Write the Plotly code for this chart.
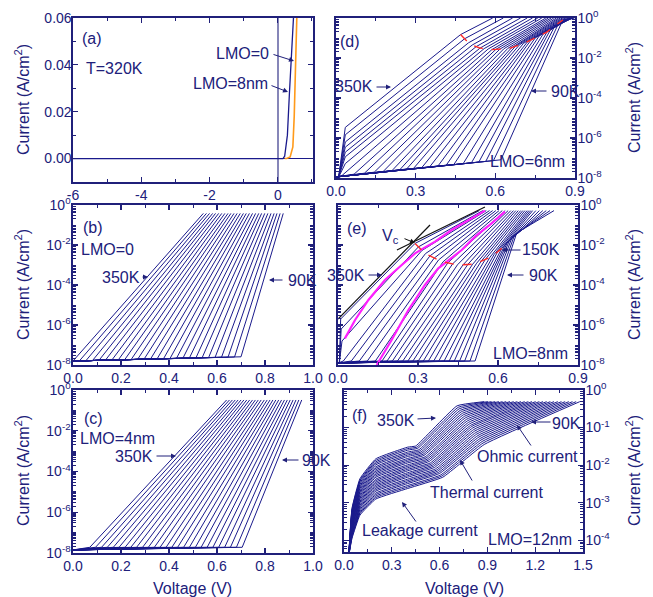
import plotly.graph_objects as go

W, H = 653, 597
FONT = "Liberation Sans, Arial, Helvetica, sans-serif"
TXT = "#20207a"
FRAME = "#20207a"
CURVE = "#1a1a8c"
MAGENTA = "#ff20ff"
RED = "#ff2a2a"
ORANGE = "#ff9a1a"

TEMPS = [350, 340, 330, 320, 310, 300, 290, 280, 270, 260, 250, 240, 230, 220,
         210, 200, 190, 180, 170, 160, 150, 140, 130, 120, 110, 100, 90]

# ---------------- (a) linear I-V at 320 K ----------------
a_v_lmo8 = [-6.0, 0.15, 0.20, 0.28, 0.34, 0.40, 0.46, 0.48]
a_i_lmo8 = [0.0, 0.0, 0.001, 0.010, 0.028, 0.043, 0.060, 0.066]
a_v_lmo0 = [0.20, 0.26, 0.36, 0.44, 0.48, 0.52, 0.556, 0.57]
a_i_lmo0 = [0.0, 0.0, 0.0007, 0.005, 0.018, 0.039, 0.060, 0.068]

# ---------------- (b) LMO=0 (log10 current) ----------------
b_v_on = [0.000, 0.027, 0.054, 0.081, 0.108, 0.135, 0.162, 0.189, 0.215, 0.242,
          0.269, 0.296, 0.323, 0.350, 0.377, 0.404, 0.431, 0.458, 0.485, 0.512,
          0.538, 0.565, 0.592, 0.619, 0.646, 0.673, 0.700]
b_v_top = [0.543, 0.556, 0.569, 0.582, 0.594, 0.607, 0.620, 0.633, 0.646, 0.658,
           0.671, 0.684, 0.697, 0.710, 0.722, 0.735, 0.748, 0.761, 0.774, 0.786,
           0.799, 0.812, 0.825, 0.838, 0.850, 0.863, 0.876]
b_floor_on = [-7.80, -7.79, -7.78, -7.78, -7.77, -7.76, -7.75, -7.74, -7.74, -7.73,
              -7.72, -7.71, -7.70, -7.70, -7.69, -7.68, -7.67, -7.66, -7.65, -7.65,
              -7.64, -7.63, -7.62, -7.61, -7.61, -7.60, -7.59]
B_FLOOR_START = -7.80
B_TOP = -0.42

# ---------------- (c) LMO=4nm ----------------
c_v_on = [0.070, 0.094, 0.119, 0.143, 0.168, 0.192, 0.217, 0.241, 0.265, 0.290,
          0.314, 0.339, 0.363, 0.388, 0.412, 0.436, 0.461, 0.485, 0.510, 0.534,
          0.559, 0.583, 0.607, 0.632, 0.656, 0.681, 0.705]
c_v_top = [0.640, 0.652, 0.664, 0.676, 0.688, 0.700, 0.712, 0.724, 0.736, 0.748,
           0.760, 0.772, 0.784, 0.797, 0.809, 0.821, 0.833, 0.845, 0.857, 0.869,
           0.881, 0.893, 0.905, 0.917, 0.929, 0.941, 0.953]
C_FLOOR_START = -7.85
C_FLOOR_ON = -7.72
C_TOP = -0.49

# ---------------- (d) LMO=6nm ----------------
d_base_v = [0.035, 0.035, 0.035, 0.035, 0.035, 0.035, 0.035, 0.023, 0.068, 0.107,
            0.144, 0.178, 0.211, 0.240, 0.266, 0.292, 0.323, 0.353, 0.384, 0.415,
            0.444, 0.479, 0.510, 0.538, 0.564, 0.593, 0.621]
d_base_log = [-5.47, -5.84, -6.20, -6.46, -6.71, -6.94, -7.28, -7.87, -7.81, -7.76,
              -7.71, -7.67, -7.63, -7.59, -7.55, -7.52, -7.48, -7.44, -7.40, -7.36,
              -7.32, -7.28, -7.24, -7.20, -7.17, -7.13, -7.09]
d_knee_v = [0.469, 0.484, 0.499, 0.513, 0.528, 0.543, 0.558, 0.573, 0.587, 0.602,
            0.617, 0.632, 0.647, 0.661, 0.676, 0.691, 0.706, 0.721, 0.735, 0.750,
            0.765, 0.780, 0.795, 0.809, 0.824, 0.839, 0.854]
d_knee_log = [-0.83, -1.04, -1.24, -1.35, -1.43, -1.50, -1.53, -1.55, -1.58, -1.57,
              -1.56, -1.54, -1.52, -1.49, -1.41, -1.34, -1.27, -1.19, -1.09, -1.00,
              -0.90, -0.80, -0.69, -0.55, -0.40, -0.25, -0.10]
d_top_v = [0.590, 0.630, 0.665, 0.695, 0.720, 0.740, 0.760, 0.775, 0.790, 0.800,
           0.810, 0.820, 0.830, 0.838, 0.845, 0.852, 0.858, 0.864, 0.869, 0.874,
           0.878, 0.882, 0.886, 0.889, 0.892, 0.895, 0.898]
D_FLOOR = -7.95
D_TOP = 0.0
d_red_v = [0.469, 0.503, 0.541, 0.591, 0.654, 0.716, 0.792, 0.854]
d_red_log = [-0.83, -1.30, -1.50, -1.58, -1.52, -1.22, -0.72, -0.10]

# ---------------- (e) LMO=8nm ----------------
e_base_v = [0.010, 0.012, 0.015, 0.020, 0.050, 0.080, 0.110, 0.140, 0.165, 0.184,
            0.204, 0.223, 0.243, 0.262, 0.281, 0.301, 0.320, 0.339, 0.359, 0.378,
            0.398, 0.417, 0.436, 0.456, 0.475, 0.495, 0.514]
e_base_log = [-5.70, -6.20, -6.80, -7.80, -7.80, -7.80, -7.80, -7.80, -7.80, -7.80,
              -7.80, -7.80, -7.80, -7.80, -7.80, -7.80, -7.80, -7.80, -7.80, -7.80,
              -7.80, -7.80, -7.80, -7.80, -7.80, -7.80, -7.80]
e_knee_v = [0.289, 0.302, 0.315, 0.328, 0.345, 0.361, 0.377, 0.394, 0.412, 0.430,
            0.448, 0.469, 0.487, 0.505, 0.520, 0.537, 0.553, 0.570, 0.585, 0.599,
            0.614, 0.626, 0.634, 0.642, 0.652, 0.662, 0.670]
e_knee_log = [-1.92, -2.09, -2.27, -2.43, -2.54, -2.65, -2.75, -2.84, -2.89, -2.94,
              -2.99, -2.99, -2.97, -2.96, -2.91, -2.81, -2.71, -2.61, -2.48, -2.33,
              -2.17, -2.00, -1.90, -1.80, -1.65, -1.50, -1.40]
e_top_v = [0.530, 0.543, 0.556, 0.568, 0.580, 0.592, 0.604, 0.616, 0.627, 0.638,
           0.648, 0.658, 0.667, 0.676, 0.685, 0.693, 0.701, 0.709, 0.716, 0.723,
           0.730, 0.742, 0.755, 0.768, 0.781, 0.795, 0.810]
E_FLOOR = -7.90
E_TOP = -0.28
e_mag1_v = [0.026, 0.064, 0.114, 0.176, 0.239, 0.289, 0.320, 0.364, 0.426, 0.489, 0.551]
e_mag1_log = [-6.67, -5.75, -4.75, -3.75, -3.00, -2.42, -2.17, -1.83, -1.25, -0.75, -0.28]
e_mag2_v = [0.145, 0.201, 0.264, 0.326, 0.376, 0.408, 0.464, 0.514, 0.576, 0.626]
e_mag2_log = [-8.00, -6.75, -5.25, -4.00, -3.17, -2.83, -2.25, -1.58, -0.92, -0.33]
e_tan1_v = [0.0, 0.345]
e_tan1_log = [-5.70, -1.00]
e_tan2_v = [0.221, 0.551]
e_tan2_log = [-2.25, -0.10]
e_red_v = [0.289, 0.326, 0.389, 0.451, 0.514, 0.576, 0.614]
e_red_log = [-1.92, -2.42, -2.83, -3.00, -2.95, -2.58, -2.17]

# ---------------- (f) LMO=12nm ----------------
F_START_V = 0.03
F_BOTTOM = -4.40
F_LEAK_V = [0.05, 0.10, 0.20, 0.40]
f_log_005 = [-3.15, -3.18, -3.21, -3.24, -3.27, -3.30, -3.33, -3.37, -3.40, -3.43,
             -3.46, -3.49, -3.52, -3.55, -3.58, -3.61, -3.64, -3.67, -3.70, -3.73,
             -3.77, -3.80, -3.83, -3.86, -3.89, -3.92, -3.95]
f_log_010 = [-2.36, -2.40, -2.43, -2.47, -2.51, -2.55, -2.58, -2.62, -2.66, -2.70,
             -2.73, -2.77, -2.81, -2.85, -2.88, -2.92, -2.96, -2.99, -3.03, -3.07,
             -3.11, -3.14, -3.18, -3.22, -3.26, -3.29, -3.33]
f_log_020 = [-1.83, -1.87, -1.91, -1.95, -1.99, -2.04, -2.08, -2.12, -2.16, -2.20,
             -2.24, -2.28, -2.32, -2.37, -2.41, -2.45, -2.49, -2.53, -2.57, -2.61,
             -2.65, -2.69, -2.74, -2.78, -2.82, -2.86, -2.90]
f_log_040 = [-1.52, -1.56, -1.60, -1.65, -1.69, -1.73, -1.77, -1.82, -1.86, -1.90,
             -1.94, -1.99, -2.03, -2.07, -2.11, -2.15, -2.20, -2.24, -2.28, -2.32,
             -2.37, -2.41, -2.45, -2.49, -2.54, -2.58, -2.62]
f_onset_v = [0.450, 0.457, 0.463, 0.470, 0.476, 0.483, 0.489, 0.496, 0.502, 0.509,
             0.515, 0.522, 0.528, 0.535, 0.542, 0.548, 0.555, 0.561, 0.568, 0.574,
             0.581, 0.587, 0.594, 0.600, 0.607, 0.613, 0.620]
f_onset_log = [-1.49, -1.52, -1.55, -1.59, -1.62, -1.65, -1.68, -1.71, -1.74, -1.78,
               -1.81, -1.84, -1.87, -1.90, -1.94, -1.97, -2.00, -2.03, -2.06, -2.10,
               -2.13, -2.16, -2.19, -2.22, -2.26, -2.29, -2.32]
f_ohmic_v = [0.710, 0.717, 0.723, 0.730, 0.736, 0.743, 0.749, 0.756, 0.762, 0.769,
             0.775, 0.782, 0.788, 0.795, 0.802, 0.808, 0.815, 0.821, 0.828, 0.834,
             0.841, 0.847, 0.854, 0.860, 0.867, 0.873, 0.880]
f_ohmic_log = [-0.42, -0.46, -0.50, -0.54, -0.58, -0.62, -0.66, -0.70, -0.74, -0.78,
               -0.82, -0.86, -0.90, -0.94, -0.97, -1.01, -1.05, -1.09, -1.13, -1.17,
               -1.21, -1.25, -1.29, -1.33, -1.37, -1.41, -1.45]
f_end_v = [0.880, 0.903, 0.926, 0.949, 0.972, 0.995, 1.018, 1.042, 1.065, 1.088,
           1.111, 1.134, 1.157, 1.180, 1.203, 1.226, 1.249, 1.272, 1.295, 1.318,
           1.342, 1.365, 1.388, 1.411, 1.434, 1.457, 1.480]
F_END_LOG = -0.31

# ======================================================================
fig = go.Figure()


def add(n, xs, ys, color=CURVE, width=1.0, dash=None, log=True, smooth=0.0):
    yv = [10.0 ** v for v in ys] if log else ys
    line = dict(color=color, width=width, dash=dash)
    if smooth:
        line.update(shape="spline", smoothing=smooth)
    fig.add_trace(go.Scatter(
        x=xs, y=yv, mode="lines", line=line,
        xaxis="x" if n == 1 else f"x{n}", yaxis="y" if n == 1 else f"y{n}",
        hoverinfo="skip", showlegend=False))


# (a)
add(1, a_v_lmo8, a_i_lmo8, CURVE, 1.3, log=False)
add(1, a_v_lmo0, a_i_lmo0, ORANGE, 1.6, log=False)

# (b)
for i in range(len(TEMPS)):
    add(2, [0.0, b_v_on[i], b_v_top[i]], [B_FLOOR_START, b_floor_on[i], B_TOP])

# (c)
for i in range(len(TEMPS)):
    add(3, [0.0, c_v_on[i], c_v_top[i]], [C_FLOOR_START, C_FLOOR_ON, C_TOP])

# (d)
for i in range(len(TEMPS)):
    xs, ls = [0.0], [D_FLOOR]
    if d_base_v[i] <= 0.035 and d_base_log[i] > -7.5:
        xs.append(0.01)
        ls.append(D_FLOOR)
    xs += [d_base_v[i], d_knee_v[i], d_top_v[i]]
    ls += [d_base_log[i], d_knee_log[i], D_TOP]
    add(4, xs, ls)
add(4, d_red_v, d_red_log, RED, 1.4, "dash")

# (e)
for i in range(len(TEMPS)):
    xs, ls = [0.0], [E_FLOOR]
    if e_base_log[i] > -7.5:
        xs.append(0.005)
        ls.append(E_FLOOR)
    xs += [e_base_v[i], e_knee_v[i], e_top_v[i]]
    ls += [e_base_log[i], e_knee_log[i], E_TOP]
    add(5, xs, ls)
add(5, e_mag1_v, e_mag1_log, MAGENTA, 2.2)
add(5, e_mag2_v, e_mag2_log, MAGENTA, 2.2)
add(5, e_tan1_v, e_tan1_log, "#111111", 1.2)
add(5, e_tan2_v, e_tan2_log, "#111111", 1.2)
add(5, e_red_v, e_red_log, RED, 1.4, "dash")

# (f)
for i in range(len(TEMPS)):
    xs = [F_START_V] + F_LEAK_V + [f_onset_v[i], f_ohmic_v[i], f_end_v[i]]
    ls = [F_BOTTOM, f_log_005[i], f_log_010[i], f_log_020[i], f_log_040[i],
          f_onset_log[i], f_ohmic_log[i], F_END_LOG]
    add(6, xs, ls, smooth=0.35)

# ======================================================================
def dom_x(x0, x1):
    return [x0 / W, x1 / W]


def dom_y(top, bottom):
    return [1 - bottom / H, 1 - top / H]


def base_axis():
    return dict(showline=True, linecolor=FRAME, linewidth=1.6, mirror="allticks",
                ticks="inside", ticklen=5, tickwidth=1.2, tickcolor=FRAME,
                showgrid=False, zeroline=False, fixedrange=True, automargin=False,
                tickfont=dict(family=FONT, size=14, color=TXT))


LOG_MINOR8 = [m * 10.0 ** k for k in range(-9, 1) for m in range(2, 10)] + \
             [10.0 ** k for k in (-7, -5, -3, -1)]
LOG_MINOR4 = [m * 10.0 ** k for k in range(-5, 1) for m in range(2, 10)]


def log8_axis(side="left"):
    d = base_axis()
    d.update(type="log", range=[-8, 0], side=side,
             ticklabelstandoff=-2,
             tickvals=[1e-8, 1e-6, 1e-4, 1e-2, 1],
             ticktext=["10<sup>-8</sup>", "10<sup>-6</sup>", "10<sup>-4</sup>",
                       "10<sup>-2</sup>", "10<sup>0</sup>"],
             minor=dict(ticks="inside", ticklen=3, tickcolor=FRAME, tickwidth=1,
                        tickvals=LOG_MINOR8, showgrid=False))
    return d


def lin_x(rng, dtick, minor, fmt=".1f"):
    d = base_axis()
    d.update(range=rng, dtick=dtick, tick0=0, tickformat=fmt,
             minor=dict(ticks="inside", ticklen=3, tickcolor=FRAME, tickwidth=1,
                        dtick=minor, tick0=0, showgrid=False))
    return d


COL_L = (73, 313)
ROW1 = (18, 182)
ROW2 = (205, 365)
ROW3 = (390, 553)

layout = dict(width=W, height=H, margin=dict(l=0, r=0, t=0, b=0, autoexpand=False),
              paper_bgcolor="white", plot_bgcolor="white", showlegend=False,
              font=dict(family=FONT, color=TXT))

# (a)
xa = lin_x([-6, 1.03], 2, 1, fmt="d")
xa.update(tickvals=[-6, -4, -2, 0], ticktext=["-6", "-4", "-2", "0"],
          zeroline=True, zerolinecolor="#8686b8", zerolinewidth=1.5,
          domain=dom_x(*COL_L), anchor="y")
ya = base_axis()
ya.update(range=[-0.01, 0.06], tickvals=[0, 0.02, 0.04, 0.06],
          ticktext=["0.00", "0.02", "0.04", "0.06"], ticklabelstandoff=-3,
          minor=dict(ticks="inside", ticklen=3, tickcolor=FRAME, tickwidth=1,
                     dtick=0.01, tick0=0, showgrid=False),
          zeroline=True, zerolinecolor=CURVE, zerolinewidth=1.2,
          domain=dom_y(*ROW1), anchor="x")
layout["xaxis"] = xa
layout["yaxis"] = ya

# (b)
xb = lin_x([0, 1], 0.2, 0.1)
xb.update(domain=dom_x(*COL_L), anchor="y2")
yb = log8_axis()
yb.update(domain=dom_y(*ROW2), anchor="x2")
layout["xaxis2"] = xb
layout["yaxis2"] = yb

# (c)
xc = lin_x([0, 1], 0.2, 0.1)
xc.update(domain=dom_x(*COL_L), anchor="y3")
yc = log8_axis()
yc.update(domain=dom_y(*ROW3), anchor="x3")
layout["xaxis3"] = xc
layout["yaxis3"] = yc

# (d)
xd = lin_x([0, 0.9], 0.3, 0.15)
xd.update(domain=dom_x(336, 575), anchor="y4")
yd = log8_axis("right")
yd.update(domain=dom_y(18, 178), anchor="x4")
layout["xaxis4"] = xd
layout["yaxis4"] = yd

# (e)
xe = lin_x([0, 0.9], 0.3, 0.15)
xe.update(domain=dom_x(338, 578), anchor="y5")
ye = log8_axis("right")
ye.update(domain=dom_y(205, 365), anchor="x5")
layout["xaxis5"] = xe
layout["yaxis5"] = ye

# (f)
xf = lin_x([0, 1.5], 0.3, 0.15)
xf.update(domain=dom_x(344, 583), anchor="y6")
yf = base_axis()
yf.update(type="log", range=[-4.31, 0], side="right", ticklabelstandoff=-2,
          tickvals=[1e-4, 1e-3, 1e-2, 1e-1, 1],
          ticktext=["10<sup>-4</sup>", "10<sup>-3</sup>", "10<sup>-2</sup>",
                    "10<sup>-1</sup>", "10<sup>0</sup>"],
          minor=dict(ticks="inside", ticklen=3, tickcolor=FRAME, tickwidth=1,
                     tickvals=LOG_MINOR4, showgrid=False),
          domain=dom_y(390, 552), anchor="x6")
layout["xaxis6"] = xf
layout["yaxis6"] = yf

# ---------------- annotations ----------------
ann = []


def P(x, y):
    return x / W, 1 - y / H


def label(x, y, text, size=16, angle=0, color=TXT):
    px, py = P(x, y)
    ann.append(dict(x=px, y=py, xref="paper", yref="paper", text=text,
                    showarrow=False, textangle=angle,
                    font=dict(family=FONT, size=size, color=color),
                    xanchor="center", yanchor="middle"))


def arrow(tx, ty, hx, hy, color=TXT):
    px, py = P(hx, hy)
    ann.append(dict(x=px, y=py, xref="paper", yref="paper", text="",
                    showarrow=True, ax=tx - hx, ay=ty - hy,
                    arrowhead=2, arrowsize=1, arrowwidth=1, standoff=0,
                    arrowcolor=color))


CUR = "Current (A/cm<sup>2</sup>)"
label(22, 100, CUR, 16, -90)
label(22, 285, CUR, 16, -90)
label(22, 471, CUR, 16, -90)
label(633, 98, CUR, 16, -90)
label(633, 285, CUR, 16, -90)
label(633, 471, CUR, 16, -90)
label(193, 588, "Voltage (V)", 16)
label(464, 588, "Voltage (V)", 16)

# (a)
label(92, 38, "(a)")
label(114, 68, "T=320K")
label(242, 53, "LMO=0")
arrow(272, 54, 294, 61)
label(230, 83, "LMO=8nm")
arrow(270, 85, 288, 92)
# (b)
label(93, 227, "(b)")
label(107, 250, "LMO=0")
label(121, 277, "350K")
arrow(141, 277, 148, 277)
label(302, 280, "90K")
arrow(284, 280, 269, 280)
# (c)
label(93, 418, "(c)")
label(118, 438, "LMO=4nm")
label(134, 456, "350K")
arrow(155, 456, 176, 456)
label(316, 460, "90K")
arrow(300, 460, 282, 460)
# (d)
label(350, 41, "(d)")
label(354, 87, "350K")
arrow(375, 87, 391, 87)
label(565, 91, "90K")
arrow(548, 91, 531, 91)
label(527, 161, "LMO=6nm")
# (e)
label(357, 229, "(e)")
label(390, 236, "V<sub>c</sub>")
arrow(403, 238, 415, 243, "#111111")
label(346, 275, "350K")
arrow(367, 275, 382, 275)
label(541, 250, "150K")
arrow(522, 250, 502, 250)
label(543, 275, "90K")
arrow(525, 275, 507, 275)
label(530, 353, "LMO=8nm")
# (f)
label(359, 415, "(f)")
label(396, 420, "350K")
arrow(416, 419, 436, 418)
label(566, 423, "90K")
arrow(552, 422, 531, 422)
label(527, 456, "Ohmic current")
arrow(532, 447, 517, 425)
label(486, 492, "Thermal current")
arrow(473, 482, 460, 460)
label(420, 530, "Leakage current")
arrow(417, 523, 402, 502)
label(530, 539, "LMO=12nm")

layout["annotations"] = ann
fig.update_layout(**layout)
fig.write_html("out.html",
               config={"displayModeBar": False, "staticPlot": True},
               post_script="document.body.style.margin='0px';"
                           "document.body.style.padding='0px';"
                           "document.documentElement.style.overflow='hidden';")
